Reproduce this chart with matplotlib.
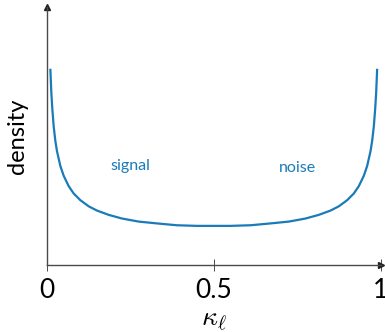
import matplotlib
matplotlib.use("Agg")
import matplotlib.pyplot as plt

# density of kappa_l
kappa_left = [0.010, 0.013, 0.016, 0.020, 0.025, 0.030, 0.040, 0.050, 0.065,
              0.080, 0.100, 0.125, 0.150, 0.185, 0.225, 0.275, 0.330, 0.390,
              0.450, 0.500]
dens_left = [3.21, 2.82, 2.55, 2.27, 2.03, 1.86, 1.62, 1.46, 1.29,
             1.17, 1.06, 0.96, 0.89, 0.82, 0.76, 0.71, 0.68, 0.65,
             0.64, 0.64]
kappa_right = [0.550, 0.610, 0.670, 0.725, 0.775, 0.815, 0.850, 0.875, 0.900,
               0.920, 0.935, 0.950, 0.960, 0.970, 0.975, 0.980, 0.984, 0.987,
               0.990]
dens_right = [0.64, 0.65, 0.68, 0.71, 0.76, 0.82, 0.89, 0.96, 1.06,
              1.17, 1.29, 1.46, 1.62, 1.86, 2.03, 2.27, 2.55, 2.82,
              3.21]

kappa = kappa_left + kappa_right
density = dens_left + dens_right

xticks = [0, 0.5, 1]
xticklabels = ["0", "0.5", "1"]

blue = "#1a7bb9"
axis_col = "#4a4a4a"

plt.rcParams["font.family"] = ["Lato", "DejaVu Sans"]
plt.rcParams["mathtext.fontset"] = "cm"

fig = plt.figure(figsize=(3.85, 3.32), dpi=100)
ax = fig.add_axes([47 / 385, 67 / 332, 333.5 / 385, 258 / 332])

ax.plot(kappa, density, color=blue, lw=1.6, solid_capstyle="butt")

ax.set_xlim(0, 1)
ax.set_ylim(0, 4.22)

for s in ["top", "right"]:
    ax.spines[s].set_visible(False)
for s in ["left", "bottom"]:
    ax.spines[s].set_color(axis_col)
    ax.spines[s].set_linewidth(1.0)

# arrow heads at the ends of the axes
ax.plot(1, 0, marker=">", color="#222222", ms=4.5, transform=ax.transAxes, clip_on=False)
ax.plot(0, 1, marker="^", color="#222222", ms=4.5, transform=ax.transAxes, clip_on=False)

ax.set_xticks(xticks)
ax.set_xticklabels(xticklabels, fontsize=19)
ax.set_yticks([])
ax.tick_params(axis="x", direction="inout", length=8, width=0.7, color=axis_col, pad=5)

ax.set_xlabel(r"$\kappa_\ell$", fontsize=20, labelpad=3)
ax.set_ylabel("density", fontsize=17, labelpad=14)

ax.text(0.25, 1.62, "signal", color=blue, fontsize=11.5, ha="center", va="center")
ax.text(0.75, 1.58, "noise", color=blue, fontsize=11.5, ha="center", va="center")

fig.savefig("out.png", dpi=100)
